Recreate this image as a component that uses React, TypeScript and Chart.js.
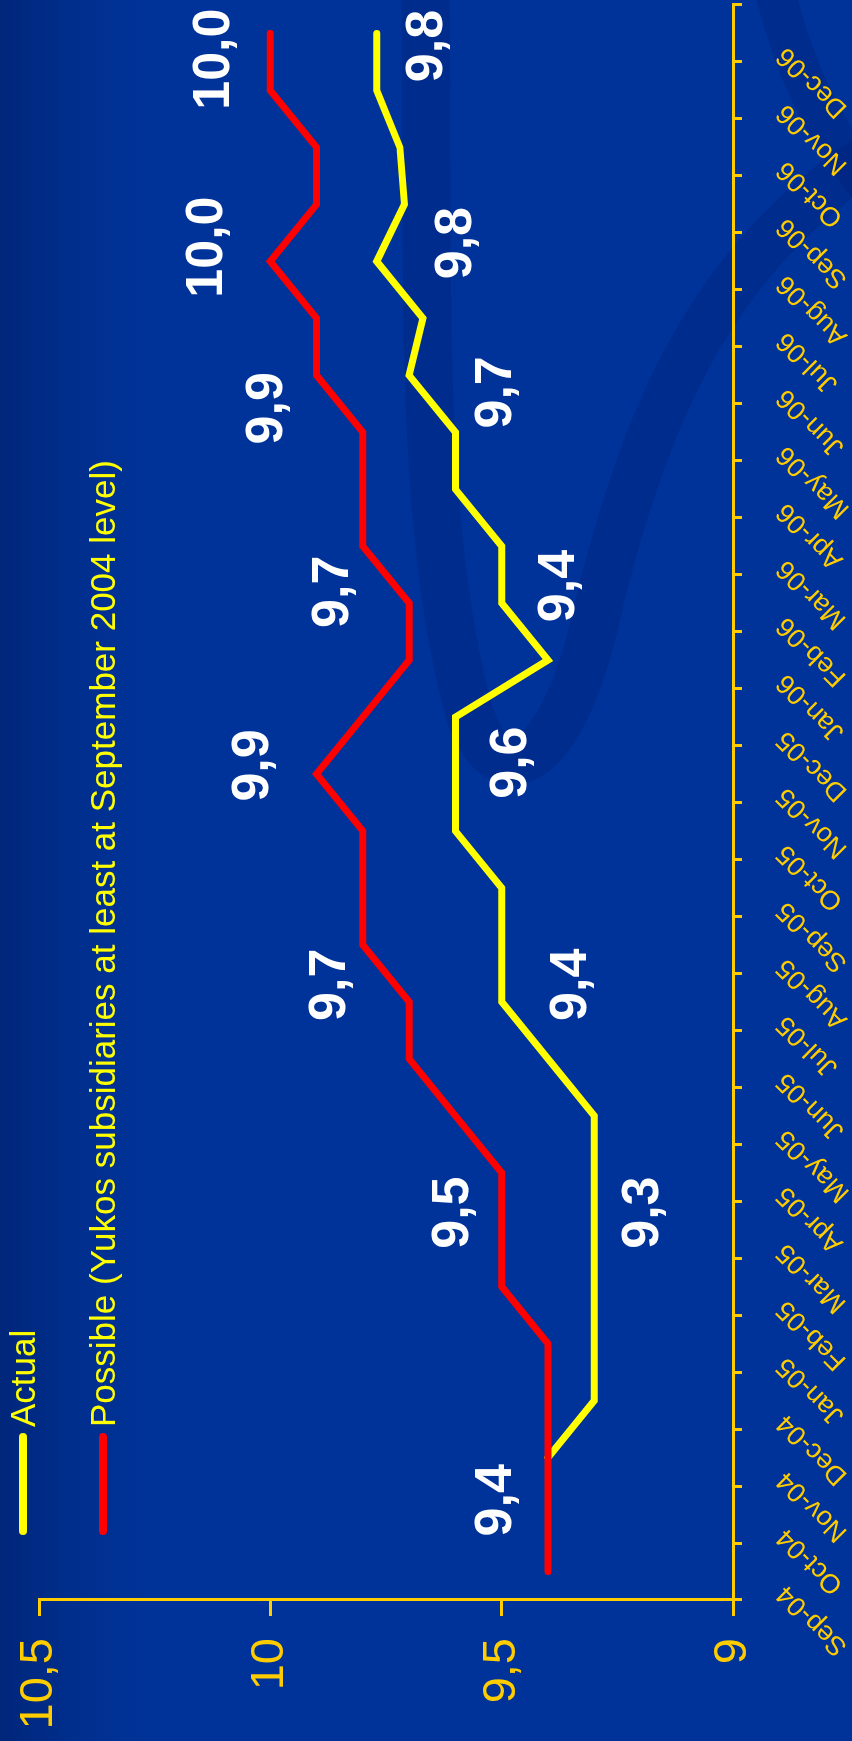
import React, { useEffect, useRef } from 'react';
import { Chart, registerables } from 'chart.js';

Chart.register(...registerables);

// Landscape chart, shown rotated 90° counter-clockwise on the page.
const CW = 1741;
const CH = 852;

const months = [
  'Sep-04', 'Oct-04', 'Nov-04', 'Dec-04', 'Jan-05', 'Feb-05', 'Mar-05', 'Apr-05',
  'May-05', 'Jun-05', 'Jul-05', 'Aug-05', 'Sep-05', 'Oct-05', 'Nov-05', 'Dec-05',
  'Jan-06', 'Feb-06', 'Mar-06', 'Apr-06', 'May-06', 'Jun-06', 'Jul-06', 'Aug-06',
  'Sep-06', 'Oct-06', 'Nov-06', 'Dec-06',
];

const actualValues = [
  null, null, 9.4, 9.3, 9.3, 9.3, 9.3, 9.3,
  9.3, 9.4, 9.5, 9.5, 9.5, 9.6, 9.6, 9.6,
  9.4, 9.5, 9.5, 9.6, 9.6, 9.7, 9.67, 9.77,
  9.71, 9.72, 9.77, 9.77,
];

const possibleValues = [
  9.4, 9.4, 9.4, 9.4, 9.4, 9.5, 9.5, 9.5,
  9.6, 9.7, 9.7, 9.8, 9.8, 9.8, 9.9, 9.8,
  9.7, 9.7, 9.8, 9.8, 9.8, 9.9, 9.9, 10.0,
  9.9, 9.9, 10.0, 10.0,
];

const seriesNames = ['Actual', 'Possible (Yukos subsidiaries at least at September 2004 level)'];
const seriesColors = ['#ffff00', '#ff0000'];

const yTickValues = [9, 9.5, 10, 10.5];

// value annotations: text, fractional category position, value position
const noteTexts = ['9,4', '9,5', '9,3', '9,7', '9,4', '9,9', '9,6', '9,7', '9,4', '9,9', '9,7', '10,0', '9,8', '10,0', '9,8'];
const noteCategory = [1.25, 6.3, 6.3, 10.3, 10.3, 14.15, 14.2, 17.2, 17.3, 20.42, 20.7, 23.25, 23.32, 26.55, 26.78];
const noteValue = [9.51, 9.603, 9.193, 9.87, 9.349, 10.035, 9.478, 9.863, 9.374, 10.006, 9.511, 10.135, 9.598, 10.12, 9.66];

const FONT = '"Liberation Sans", Arial, sans-serif';
const GOLD = '#ffcc00';

const backgroundPlugin = {
  id: 'slideBackground',
  beforeDraw(chart: any) {
    const { ctx, width, height } = chart;
    ctx.save();
    const g = ctx.createLinearGradient(0, 0, 0, height);
    g.addColorStop(0, '#00267a');
    g.addColorStop(0.08, '#002e8c');
    g.addColorStop(0.18, '#003399');
    g.addColorStop(1, '#003399');
    ctx.fillStyle = g;
    ctx.fillRect(0, 0, width, height);

    // decorative swirls (page coordinates -> canvas coordinates)
    const P = (sx: number, sy: number) => [width - sy, sx];
    const path = (pts: number[][]) => {
      ctx.beginPath();
      const s = P(pts[0][0], pts[0][1]);
      ctx.moveTo(s[0], s[1]);
      for (let i = 1; i + 2 < pts.length + 1; i += 3) {
        const a = P(pts[i][0], pts[i][1]);
        const b = P(pts[i + 1][0], pts[i + 1][1]);
        const c = P(pts[i + 2][0], pts[i + 2][1]);
        ctx.bezierCurveTo(a[0], a[1], b[0], b[1], c[0], c[1]);
      }
    };
    ctx.lineCap = 'round';
    ctx.strokeStyle = 'rgba(0, 22, 95, 0.2)';
    ctx.lineWidth = 48;
    path([[425, -30], [430, 250], [415, 520], [470, 715], [500, 800], [565, 770], [600, 600], [650, 400], [720, 250], [880, 150]]);
    ctx.stroke();
    ctx.lineWidth = 40;
    path([[770, -30], [790, 60], [820, 130], [880, 200]]);
    ctx.stroke();
    ctx.restore();
  },
};

const notesPlugin = {
  id: 'valueNotes',
  afterDatasetsDraw(chart: any) {
    const { ctx } = chart;
    const xs = chart.scales.x;
    const ys = chart.scales.y;
    ctx.save();
    ctx.fillStyle = '#ffffff';
    ctx.font = `bold 52px ${FONT}`;
    ctx.textAlign = 'center';
    ctx.textBaseline = 'middle';
    noteTexts.forEach((t, i) => {
      ctx.fillText(t, xs.getPixelForValue(noteCategory[i]), ys.getPixelForValue(noteValue[i]));
    });
    ctx.restore();
  },
};

const legendPlugin = {
  id: 'slideLegend',
  afterDraw(chart: any) {
    const { ctx } = chart;
    ctx.save();
    const rows = [23, 103];
    seriesNames.forEach((name, i) => {
      const y = rows[i];
      ctx.strokeStyle = seriesColors[i];
      ctx.lineWidth = 8;
      ctx.lineCap = 'round';
      ctx.beginPath();
      ctx.moveTo(210, y);
      ctx.lineTo(304, y);
      ctx.stroke();
      ctx.fillStyle = '#ffff00';
      ctx.font = `35px ${FONT}`;
      ctx.textAlign = 'left';
      ctx.textBaseline = 'alphabetic';
      ctx.fillText(name, 314, y + 12);
    });
    ctx.restore();
  },
};

export default function App() {
  const canvasRef = useRef<HTMLCanvasElement | null>(null);

  useEffect(() => {
    const canvas = canvasRef.current;
    if (!canvas) return;
    const chart = new Chart(canvas, {
      type: 'line',
      data: {
        labels: months,
        datasets: [
          {
            label: seriesNames[1],
            data: possibleValues,
            borderColor: seriesColors[1],
            borderWidth: 7,
            pointRadius: 0,
            tension: 0,
            borderJoinStyle: 'miter',
            borderCapStyle: 'round',
            order: 0,
          },
          {
            label: seriesNames[0],
            data: actualValues,
            borderColor: seriesColors[0],
            borderWidth: 7,
            pointRadius: 0,
            tension: 0,
            borderJoinStyle: 'miter',
            borderCapStyle: 'round',
            order: 1,
          },
        ],
      },
      options: {
        responsive: false,
        animation: false,
        devicePixelRatio: 1,
        layout: { padding: { top: 39, right: 5, left: 0, bottom: 0 } },
        plugins: {
          legend: { display: false },
          tooltip: { enabled: false },
          title: { display: false },
        },
        scales: {
          x: {
            type: 'category',
            offset: true,
            grid: {
              offset: true,
              drawOnChartArea: false,
              drawTicks: true,
              tickLength: 9,
              color: GOLD,
              lineWidth: 3,
            },
            border: { display: true, color: GOLD, width: 3 },
            ticks: {
              color: GOLD,
              font: { family: FONT, size: 27 },
              minRotation: 45,
              maxRotation: 45,
              autoSkip: false,
              padding: 28,
              labelOffset: -18,
            },
            afterFit: (s: any) => {
              s.height = 119;
              s.paddingLeft = 0;
              s.paddingRight = 0;
            },
          },
          y: {
            min: 9,
            max: 10.5,
            grid: {
              drawOnChartArea: false,
              drawTicks: true,
              tickLength: 16,
              color: GOLD,
              lineWidth: 3,
            },
            border: { display: true, color: GOLD, width: 3 },
            ticks: {
              color: GOLD,
              font: { family: FONT, size: 47 },
              padding: 22,
              callback: (v: any) => String(v).replace('.', ','),
            },
            afterBuildTicks: (s: any) => { s.ticks = yTickValues.map((v) => ({ value: v })); },
            afterFit: (s: any) => {
              s.width = 141;
              s.paddingTop = 0;
              s.paddingBottom = 0;
            },
          },
        },
      },
      plugins: [backgroundPlugin, notesPlugin, legendPlugin],
    } as any);
    return () => chart.destroy();
  }, []);

  return (
    <div style={{ position: 'fixed', left: 0, top: 0, width: 852, height: 1741, overflow: 'hidden', background: '#003399' }}>
      <div
        style={{
          position: 'absolute',
          left: 0,
          top: 0,
          width: CW,
          height: CH,
          transformOrigin: '0 0',
          transform: `translate(0px, ${CW}px) rotate(-90deg)`,
        }}
      >
        <canvas ref={canvasRef} width={CW} height={CH} style={{ display: 'block', width: CW, height: CH }} />
      </div>
    </div>
  );
}
